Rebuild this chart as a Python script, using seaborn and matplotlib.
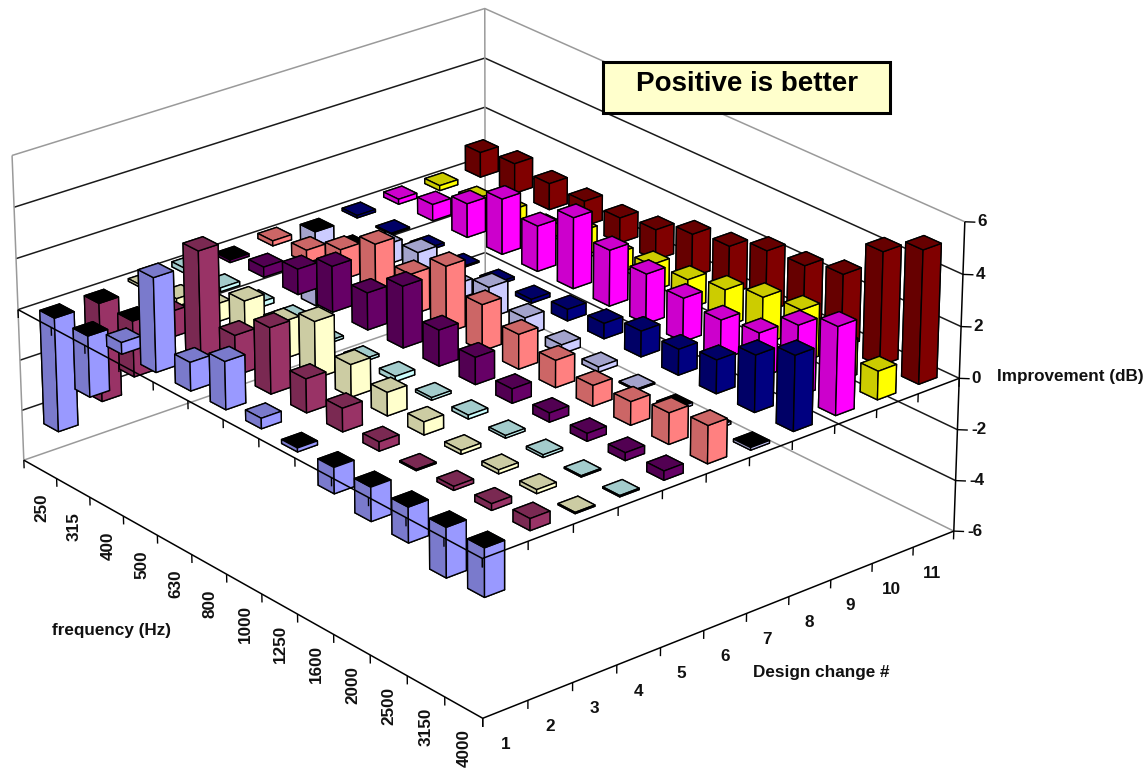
import numpy as np
import matplotlib
matplotlib.use('Agg')
import matplotlib.pyplot as plt
from matplotlib.patches import Rectangle
import seaborn as sns

# === Data ===
frequencies = ['250', '315', '400', '500', '630', '800', '1000', '1250', '1600', '2000', '2500', '3150', '4000']
design_changes = ['1', '2', '3', '4', '5', '6', '7', '8', '9', '10', '11']
z_ticks = [-6, -4, -2, 0, 2, 4, 6]

design_1 = [-4.5, -2.4, 0.45, 3.65, 1.1, 1.85, 0.4, -0.15, -1.0, -1.3, -1.35, -1.9, -1.85]
design_2 = [-3.9, -2.2, 1.0, 4.1, 1.55, 2.55, 1.3, 0.9, 0.35, 0.05, 0.15, 0.25, 0.45]
design_3 = [0.1, 0.3, 0.7, 1.6, 1.45, 2.2, 1.25, 0.9, 0.5, 0.15, 0.15, 0.15, 0.05]
design_4 = [0.2, 0.15, 0.2, 0.3, 0.1, 0.1, 0.2, 0.1, 0.15, 0.1, 0.1, 0.05, 0.05]
design_5 = [-0.1, 0.4, 1.0, 1.8, 1.45, 2.4, 1.4, 1.05, 0.55, 0.35, 0.3, 0.3, 0.35]
design_6 = [0.2, 0.5, 1.2, 2.1, 1.6, 2.6, 1.8, 1.35, 1.05, 0.8, 0.9, 1.2, 1.45]
design_7 = [-3.0, -0.1, 0.8, 1.2, 0.6, 1.2, 0.7, 0.35, 0.2, 0.05, -0.1, -0.1, -0.1]
design_8 = [0.1, 0.05, 0.1, 0.05, 0.1, 0.15, 0.45, 0.6, 1.0, 1.0, 1.3, 2.2, 2.9]
design_9 = [0.2, 0.65, 1.35, 2.2, 1.8, 2.8, 2.2, 1.95, 1.7, 1.55, 1.75, 2.75, 3.4]
design_10 = [0.2, 0.3, 0.5, 0.5, 1.0, 0.8, 1.05, 1.15, 1.45, 1.85, 2.05, 1.4, 1.1]
design_11 = [1.0, 1.2, 1.05, 1.0, 1.0, 1.2, 1.7, 1.9, 2.4, 2.5, 2.85, 4.4, 5.15]
values = np.array([design_1, design_2, design_3, design_4, design_5, design_6,
                   design_7, design_8, design_9, design_10, design_11])

series_colors = ['#9999FF', '#993366', '#FFFFCC', '#CCFFFF', '#660066', '#FF8080',
                 '#CCCCFF', '#000080', '#FF00FF', '#FFFF00', '#800000']

W, H = 1145, 772
sns.set_theme(style='white')
plt.rcParams['font.family'] = ['Liberation Sans', 'DejaVu Sans']
palette = sns.color_palette(series_colors)

# === Figure: square 3D axes as wide as the figure ===
fig = plt.figure(figsize=(W / 100, H / 100), dpi=100, facecolor='white')
ax = fig.add_axes([0, -(W - H) / 2 / H, 1, W / H], projection='3d')
ax.set_proj_type('ortho')
ax.set_axis_off()
ax.patch.set_visible(False)
ax.computed_zorder = False

# === Excel-style camera, fitted to where the box corners sit in the picture ===
x0, x1 = -0.5, len(frequencies) - 0.5
y0, y1 = -0.5, len(design_changes) - 0.5
box_corners = [
    ((x0, y0, -6), (24, 460)), ((x1, y0, -6), (482, 718)), ((x1, y1, -6), (954, 531)), ((x0, y1, -6), (485, 300)),
    ((x0, y0, 0), (18, 310)), ((x1, y0, 0), (483, 559)), ((x1, y1, 0), (960, 378)), ((x0, y1, 0), (485, 157)),
    ((x0, y0, 6), (12, 155)), ((x1, y1, 6), (964, 222)), ((x0, y1, 6), (485, 8)),
]


def excel_proj():
    ax.apply_aspect()
    to_view = ax.transData.inverted()
    rows, rhs = [], []
    for (X, Y, Z), (px, py) in box_corners:
        vx, vy = to_view.transform((px, H - py))
        rows.append([X, Y, Z, 1, 0, 0, 0, 0, -vx * X, -vx * Y, -vx * Z])
        rows.append([0, 0, 0, 0, X, Y, Z, 1, -vy * X, -vy * Y, -vy * Z])
        rhs += [vx, vy]
    p = np.linalg.lstsq(np.array(rows), np.array(rhs), rcond=None)[0]
    return np.array([p[:4], p[4:8], [0, 0, 0, -1], [p[8], p[9], p[10], 1]])


ax.get_proj = excel_proj


def line(xs, ys, zs, color='black', lw=1.0, zorder=1):
    ax.plot(xs, ys, zs, color=color, lw=lw, zorder=zorder, solid_capstyle='butt')


def fig_pos(x, y, z, dx=0, dy=0):
    # where a data point lands on the figure, with an offset in pixels
    q = excel_proj() @ np.array([x, y, z, 1.0])
    px, py = ax.transData.transform((q[0] / q[3], q[1] / q[3]))
    return (px + dx) / W, (py + dy) / H


# === Walls ===
wall_grey = '#9A9A9A'
for z in z_ticks:
    c = wall_grey if abs(z) == 6 else '#1A1A1A'
    line([x0, x0, x1], [y0, y1, y1], [z, z, z], color=c, lw=1.1)
line([x0, x0], [y0, y0], [-6, 6], color=wall_grey, lw=1.1)
line([x0, x0], [y1, y1], [-6, 6], color=wall_grey, lw=1.1)

# === Bars, back to front ===
bar_w = 0.44
order = 10
for j in range(len(design_changes) - 1, -1, -1):
    base = np.array(palette[j])
    dark = tuple(base * 0.8)
    bright = tuple(base)
    for i in range(len(frequencies)):
        v = values[j, i]
        top = 'black' if v < 0 else dark
        # faces: -z, +z, -y, +y, -x, +x
        faces = [dark, top, dark, bright, dark, bright]
        bars = ax.bar3d(i - bar_w / 2, j - bar_w / 2, min(v, 0), bar_w, bar_w, abs(v),
                        color=faces, shade=False, edgecolor='black', linewidth=1.0)
        bars.set_zorder(order)
        order += 1

# === Axis lines, ticks and labels ===
top_z = order + 10
tick_len = 0.33
for z_level in [-6, 0]:
    line([x0, x1, x1], [y0, y0, y1], [z_level, z_level, z_level], lw=1.1, zorder=top_z)
    for i in range(len(frequencies) + 1):
        line([x0 + i, x0 + i], [y0, y0], [z_level, z_level - tick_len], lw=1.0, zorder=top_z)
    for j in range(len(design_changes) + 1):
        line([x1, x1], [y0 + j, y0 + j], [z_level, z_level - tick_len], lw=1.0, zorder=top_z)

line([x1, x1], [y1, y1], [-6, 6], lw=1.1, zorder=top_z)
for z in z_ticks:
    line([x1, x1 + 0.13], [y1, y1 + 0.13], [z, z], lw=1.0, zorder=top_z)

text_style = dict(fontsize=12.3, fontweight='bold', color='#111111')
for z in z_ticks:
    fx, fy = fig_pos(x1, y1, z, dx=29 if z < 0 else 22)
    fig.text(fx, fy, str(z), ha='right', va='center', **text_style)
for i, label in enumerate(frequencies):
    fx, fy = fig_pos(i, y0, -7.55)
    fig.text(fx, fy, label, rotation=90, ha='center', va='center', **text_style)
for j, label in enumerate(design_changes):
    fx, fy = fig_pos(x1, j, -7.35)
    fig.text(fx, fy, label, ha='center', va='center', **text_style)

fig.text(52 / W, 1 - 631 / H, 'frequency (Hz)', ha='left', va='center', **text_style)
fig.text(753 / W, 1 - 673 / H, 'Design change #', ha='left', va='center', **text_style)
fig.text(997 / W, 1 - 377 / H, 'Improvement (dB)', ha='left', va='center', **text_style)

# === Note box ===
fig.add_artist(Rectangle((603 / W, 1 - 113 / H), 287 / W, 51 / H, transform=fig.transFigure,
                         facecolor='#FFFFCC', edgecolor='black', linewidth=2.2, zorder=5))
fig.text(747 / W, 1 - 84 / H, 'Positive is better', ha='center', va='center', fontsize=20,
         fontweight='bold', color='black', zorder=6)

fig.savefig('out.png', dpi=100)
